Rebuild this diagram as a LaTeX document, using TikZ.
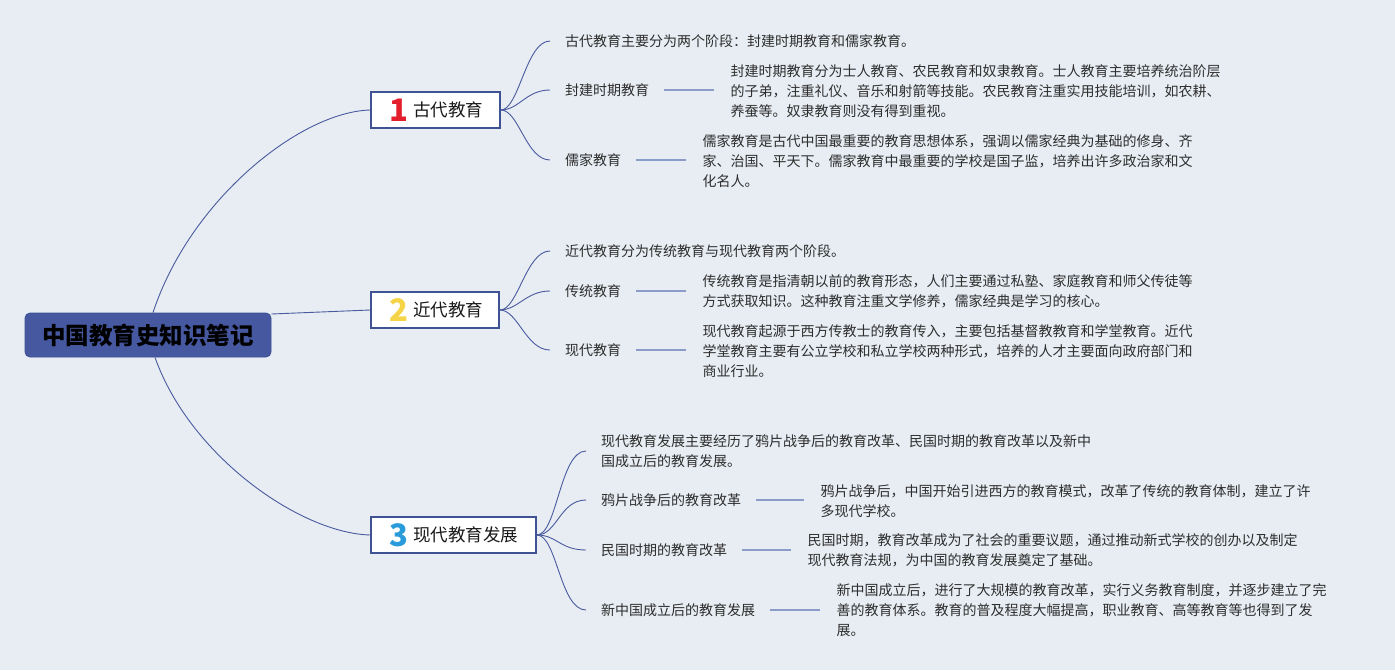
\documentclass[tikz,border=0pt]{standalone}
\usepackage{fontspec}
\setmainfont{Noto Sans CJK SC}
\usetikzlibrary{calc}
\definecolor{bg}{HTML}{E7EDF3}
\definecolor{rootfill}{HTML}{4558A0}
\definecolor{rootline}{HTML}{3D4F94}
\definecolor{boxline}{HTML}{3E5294}
\definecolor{linkc}{HTML}{4A5A9E}
\definecolor{shortc}{HTML}{8C9CC8}
\definecolor{txt}{HTML}{2E2E2E}
\definecolor{numred}{HTML}{E31E2D}
\definecolor{numyel}{HTML}{F5D447}
\definecolor{numblue}{HTML}{2A9BDA}
\tikzset{
  rootbox/.style={draw=rootline, line width=0.8pt, fill=rootfill, rounded corners=5pt,
    minimum width=246pt, minimum height=44pt, inner sep=0pt,
    font=\bfseries\fontsize{23.5}{28}\selectfont, text=black},
  branchbox/.style={draw=boxline, line width=1.8pt, fill=white, minimum height=36pt, inner sep=0pt},
  numstyle/.style={font=\bfseries\fontsize{31}{31}\selectfont, inner sep=0pt},
  titlestyle/.style={font=\fontsize{17.5}{20}\selectfont, inner sep=0pt, anchor=west, text=black!90},
  leafl/.style={font=\fontsize{14}{20}\selectfont, inner xsep=15pt, inner ysep=2pt, anchor=west, align=left, text=txt},
  detailtxt/.style={font=\fontsize{14}{20}\selectfont, inner xsep=16pt, inner ysep=2pt, anchor=west, align=left, text=txt},
  mainlink/.style={draw=linkc, line width=0.9pt},
  shortlink/.style={draw=shortc, line width=1.6pt}
}
\begin{document}
\begin{tikzpicture}[x=1pt,y=-1pt]
\fill[bg] (0,0) rectangle (1395,670);
\useasboundingbox (0,0) rectangle (1395,670);

% root
\node[rootbox] (r) at (148,335) {中国教育史知识笔记};

% branch boxes
\node[branchbox, minimum width=129pt] (b1) at (435.5,110) {};
\node[branchbox, minimum width=128pt] (b2) at (435,310) {};
\node[branchbox, minimum width=165pt] (b3) at (453.5,535) {};
\node[numstyle, text=numred] (n1) at (398.5,110) {1};
\node[numstyle, text=numyel] (n2) at (398.5,310.5) {2};
\node[numstyle, text=numblue] (n3) at (398.5,535) {3};
\node[titlestyle] (t1) at (413,110) {古代教育};
\node[titlestyle] (t2) at (413,310) {近代教育};
\node[titlestyle] (t3) at (413,535) {现代教育发展};

% root links
\draw[mainlink] ([xshift=5pt]r.north) .. controls (190,200) and (300,112) .. (b1.west);
\draw[mainlink] ([yshift=21pt]r.east) -- (b2.west);
\draw[mainlink] ([xshift=7pt]r.south) .. controls (190,456) and (300,533) .. (b3.west);

% branch 1
\node[leafl] (a11) at (550,41) {古代教育主要分为两个阶段：封建时期教育和儒家教育。};
\node[leafl] (a12) at (550,90) {封建时期教育};
\node[leafl] (a13) at (550,160) {儒家教育};
\node[detailtxt] (d12) at ($(a12.east)+(50,1)$) {封建时期教育分为士人教育、农民教育和奴隶教育。士人教育主要培养统治阶层\\的子弟，注重礼仪、音乐和射箭等技能。农民教育注重实用技能培训，如农耕、\\养蚕等。奴隶教育则没有得到重视。};
\node[detailtxt] (d13) at ($(a13.east)+(50,1)$) {儒家教育是古代中国最重要的教育思想体系，强调以儒家经典为基础的修身、齐\\家、治国、平天下。儒家教育中最重要的学校是国子监，培养出许多政治家和文\\化名人。};
\foreach \k in {a11,a12,a13}
  \draw[mainlink] (b1.east) .. controls +(18,0) and +(-24,0) .. (\k.west);
\draw[shortlink] (a12.east) -- ($(a12.east)+(50,0)$);
\draw[shortlink] (a13.east) -- ($(a13.east)+(50,0)$);

% branch 2
\node[leafl] (a21) at (550,251) {近代教育分为传统教育与现代教育两个阶段。};
\node[leafl] (a22) at (550,291) {传统教育};
\node[leafl] (a23) at (550,350) {现代教育};
\node[detailtxt] (d22) at ($(a22.east)+(50,0.5)$) {传统教育是指清朝以前的教育形态，人们主要通过私塾、家庭教育和师父传徒等\\方式获取知识。这种教育注重文学修养，儒家经典是学习的核心。};
\node[detailtxt] (d23) at ($(a23.east)+(50,1)$) {现代教育起源于西方传教士的教育传入，主要包括基督教教育和学堂教育。近代\\学堂教育主要有公立学校和私立学校两种形式，培养的人才主要面向政府部门和\\商业行业。};
\foreach \k in {a21,a22,a23}
  \draw[mainlink] (b2.east) .. controls +(18,0) and +(-24,0) .. (\k.west);
\draw[shortlink] (a22.east) -- ($(a22.east)+(50,0)$);
\draw[shortlink] (a23.east) -- ($(a23.east)+(50,0)$);

% branch 3
\node[leafl] (a31) at (586,451) {现代教育发展主要经历了鸦片战争后的教育改革、民国时期的教育改革以及新中\\国成立后的教育发展。};
\node[leafl] (a32) at (586,500) {鸦片战争后的教育改革};
\node[leafl] (a33) at (586,550) {民国时期的教育改革};
\node[leafl] (a34) at (586,610) {新中国成立后的教育发展};
\node[detailtxt] (d32) at ($(a32.east)+(48,1)$) {鸦片战争后，中国开始引进西方的教育模式，改革了传统的教育体制，建立了许\\多现代学校。};
\node[detailtxt] (d33) at ($(a33.east)+(49,0)$) {民国时期，教育改革成为了社会的重要议题，通过推动新式学校的创办以及制定\\现代教育法规，为中国的教育发展奠定了基础。};
\node[detailtxt] (d34) at ($(a34.east)+(50,0)$) {新中国成立后，进行了大规模的教育改革，实行义务教育制度，并逐步建立了完\\善的教育体系。教育的普及程度大幅提高，职业教育、高等教育等也得到了发\\展。};
\foreach \k in {a31,a32,a33,a34}
  \draw[mainlink] (b3.east) .. controls +(20,0) and +(-26,0) .. (\k.west);
\draw[shortlink] (a32.east) -- ($(a32.east)+(48,0)$);
\draw[shortlink] (a33.east) -- ($(a33.east)+(49,0)$);
\draw[shortlink] (a34.east) -- ($(a34.east)+(50,0)$);
\end{tikzpicture}
\end{document}
